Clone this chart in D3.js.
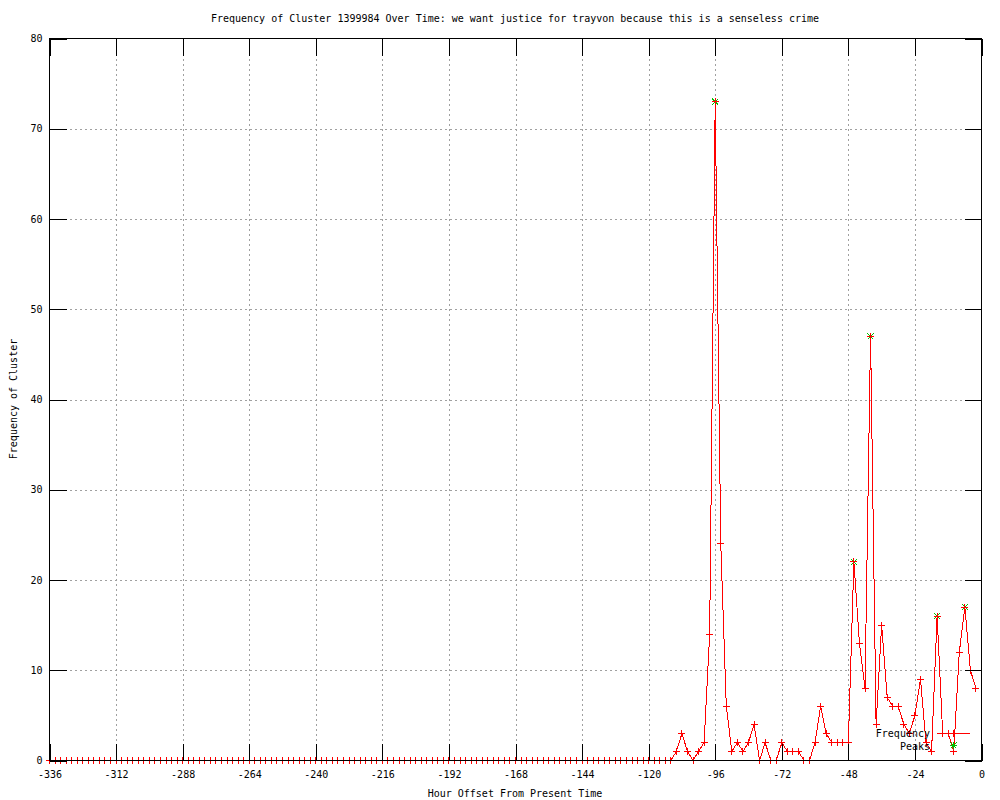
<!DOCTYPE html>
<html><head><meta charset="utf-8">
<script src="https://cdn.jsdelivr.net/npm/d3@7"></script>
<style>
body{margin:0;background:#fff}
text{font-family:"DejaVu Sans Mono","Liberation Mono",monospace;font-size:10px;fill:#000}
</style>
</head><body>
<svg id="c" width="1000" height="800"></svg>
<script>
// ---- data ----
const hours = d3.range(-336, 0, 2); // one sample every 2 hours, -336 .. -2
const freq = [
  0,0,0,0,0,0,0,0,0,0,0,0,0,0,0,0,0,0,0,0,
  0,0,0,0,0,0,0,0,0,0,0,0,0,0,0,0,0,0,0,0,
  0,0,0,0,0,0,0,0,0,0,0,0,0,0,0,0,0,0,0,0,
  0,0,0,0,0,0,0,0,0,0,0,0,0,0,0,0,0,0,0,0,
  0,0,0,0,0,0,0,0,0,0,0,0,0,0,0,0,0,0,0,0,
  0,0,0,0,0,0,0,0,0,0,0,0,0,
  1,3,1,0,1,2,14,73,24,6,
  1,2,1,2,4,0,2,0,0,2,
  1,1,1,0,0,2,6,3,2,2,
  2,2,22,13,8,47,4,15,7,6,
  6,4,3,5,9,2,1,16,3,3,
  1,12,17,10,8
];
const peakHours = [-96, -46, -40, -16, -6];
const peakValues = [73, 22, 47, 16, 17];
const xTicks = [-336,-312,-288,-264,-240,-216,-192,-168,-144,-120,-96,-72,-48,-24,0];
const yTicks = [0,10,20,30,40,50,60,70,80];
const titleText = "Frequency of Cluster 1399984 Over Time: we want justice for trayvon because this is a senseless crime";
const xLabel = "Hour Offset From Present Time";
const yLabel = "Frequency of Cluster";
const seriesNames = ["Frequency", "Peaks"];

// ---- layout ----
const L = 49.5, R = 981.5, T = 38.5, B = 760.5;
const svg = d3.select("#c");
const x = d3.scaleLinear().domain([-336, 0]).range([L, R]);
const y = d3.scaleLinear().domain([0, 80]).range([B, T]);
const TICK = 17;

// grid
const gridX = svg.append("g").attr("transform", `translate(0,${B})`)
  .call(d3.axisBottom(x).tickValues(xTicks.slice(1, -1)).tickSize(-(B - T)).tickFormat(""));
const gridY = svg.append("g").attr("transform", `translate(${L},0)`)
  .call(d3.axisLeft(y).tickValues(yTicks.slice(1, -1)).tickSize(-(R - L)).tickFormat(""));
[gridX, gridY].forEach(g => {
  g.select(".domain").remove();
  g.selectAll("line").attr("stroke", "#a0a0a0").attr("stroke-dasharray", "2,3")
    .attr("shape-rendering", "crispEdges");
});

// peaks (under the red series)
const star = "M-3.5,0H3.5M0,-3.5V3.5M-3,-3L3,3M-3,3L3,-3";
const plus = "M-3.5,0H3.5M0,-3.5V3.5";
svg.append("g").selectAll("path").data(peakHours).join("path")
  .attr("transform", (d, i) => `translate(${x(d)},${y(peakValues[i])})`)
  .attr("d", star).attr("stroke", "#00c000").attr("fill", "none")
  .attr("shape-rendering", "crispEdges");

// frequency series
svg.append("path").datum(hours)
  .attr("d", d3.line().x(d => x(d)).y((d, i) => y(freq[i])))
  .attr("fill", "none").attr("stroke", "#ff0000").attr("stroke-width", 1)
  .attr("shape-rendering", "crispEdges");
svg.append("g").selectAll("path").data(hours).join("path")
  .attr("transform", (d, i) => `translate(${x(d)},${y(freq[i])})`)
  .attr("d", plus).attr("stroke", "#ff0000").attr("fill", "none")
  .attr("shape-rendering", "crispEdges");

// axes with inward ticks
const axB = svg.append("g").attr("transform", `translate(0,${B})`)
  .call(d3.axisBottom(x).tickValues(xTicks).tickSize(-TICK).tickPadding(10).tickFormat(d3.format("d")));
const axT = svg.append("g").attr("transform", `translate(0,${T})`)
  .call(d3.axisTop(x).tickValues(xTicks).tickSize(-TICK).tickFormat(""));
const axL = svg.append("g").attr("transform", `translate(${L},0)`)
  .call(d3.axisLeft(y).tickValues(yTicks).tickSize(-TICK).tickPadding(7).tickFormat(d3.format("d")));
const axR = svg.append("g").attr("transform", `translate(${R},0)`)
  .call(d3.axisRight(y).tickValues(yTicks).tickSize(-TICK).tickFormat(""));
[axB, axT, axL, axR].forEach(g => {
  g.select(".domain").remove();
  g.selectAll("line").attr("stroke", "#000").attr("shape-rendering", "crispEdges");
  g.selectAll("text").style("font-family", "'DejaVu Sans Mono',monospace").style("font-size", "10px");
});
axB.selectAll("text").text(d => d < 0 ? "-" + Math.abs(d) : d);

// border
svg.append("rect").attr("x", L).attr("y", T).attr("width", R - L).attr("height", B - T)
  .attr("fill", "none").attr("stroke", "#000").attr("shape-rendering", "crispEdges");

// titles
svg.append("text").attr("x", 515).attr("y", 22).attr("text-anchor", "middle").text(titleText);
svg.append("text").attr("x", 515).attr("y", 797).attr("text-anchor", "middle").text(xLabel);
svg.append("text").attr("transform", `translate(17,399) rotate(-90)`).attr("text-anchor", "middle").text(yLabel);

// legend
const lgX = 930, sx0 = 937, sx1 = 970, sxm = (sx0 + sx1) / 2;
svg.append("text").attr("x", lgX).attr("y", 737).attr("text-anchor", "end").text(seriesNames[0]);
svg.append("text").attr("x", lgX).attr("y", 749.5).attr("text-anchor", "end").text(seriesNames[1]);
svg.append("line").attr("x1", sx0).attr("x2", sx1).attr("y1", 733.5).attr("y2", 733.5)
  .attr("stroke", "#ff0000").attr("shape-rendering", "crispEdges");
svg.append("path").attr("transform", `translate(${sxm},733.5)`).attr("d", plus)
  .attr("stroke", "#ff0000").attr("fill", "none").attr("shape-rendering", "crispEdges");
svg.append("path").attr("transform", `translate(${sxm},745.5)`).attr("d", star)
  .attr("stroke", "#00c000").attr("fill", "none").attr("shape-rendering", "crispEdges");
</script>
</body></html>
